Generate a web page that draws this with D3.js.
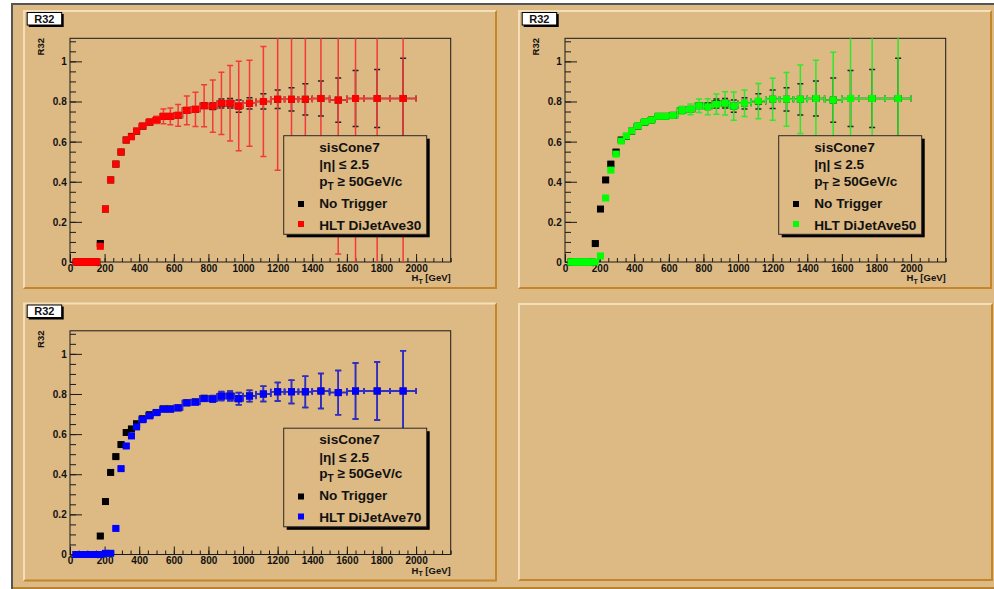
<!DOCTYPE html>
<html>
<head>
<meta charset="utf-8">
<script src="https://cdn.jsdelivr.net/npm/d3@7"></script>
<style>
  body { margin: 0; background: #ffffff; }
  svg { display: block; }
  text { font-family: "Liberation Sans", Arial, Helvetica, sans-serif; font-weight: bold; fill: #111; }
</style>
</head>
<body>
<svg id="canvas" width="994" height="589"></svg>
<script>
// H_T bin edges [GeV]
const binEdges = [30,40,50,60,70,80,90,100,110,120,130,140,150,160,190,220,250,280,310,340,370,400,
                  440,480,520,560,600,650,700,750,800,850,900,950,1000,1075,1160,1240,1320,1400,
                  1500,1600,1700,1850,2000];

// R32 per bin, no trigger requirement
const noTriggerR32 = [0,0,0,0,0,0,0,0,0,0,0,0,0,
  0.092,0.264,0.409,0.488,0.548,0.608,0.626,0.652,
  0.677,0.697,0.708,0.726,0.726,
  0.731,0.756,0.761,0.779,0.776,0.790,0.791,0.777,
  0.791,0.800,0.811,0.811,0.811,
  0.815,0.807,0.815,
  0.815,0.815];
const noTriggerErr = [0,0,0,0,0,0,0,0,0,0,0,0,0,
  0.004,0.006,0.006,0.006,0.006,0.006,0.006,0.006,
  0.006,0.006,0.006,0.007,0.008,
  0.008,0.009,0.010,0.012,0.016,0.022,0.024,0.030,
  0.028,0.038,0.046,0.058,0.078,
  0.087,0.110,0.140,
  0.145,0.200];

// R32 per bin, HLT DiJetAve30
const ave30R32 = [0,0,0,0,0,0,0,0,0,0,0,0,0,
  0.078,0.264,0.409,0.488,0.548,0.608,0.624,0.653,
  0.678,0.698,0.708,0.726,0.726,
  0.731,0.756,0.761,0.779,0.777,0.791,0.791,0.777,
  0.791,0.800,0.811,0.811,0.811,
  0.815,0.807,0.815,
  0.815,0.815];
const ave30Err = [0,0,0,0,0,0,0,0,0,0,0,0,0,
  0.005,0.007,0.007,0.007,0.007,0.007,0.007,0.008,
  0.008,0.012,0.018,0.037,0.042,
  0.054,0.072,0.085,0.105,0.130,0.155,0.188,0.223,
  0.214,0.274,0.354,0.450,0.500,
  0.550,0.767,0.850,
  0.880,0.950];

// R32 per bin, HLT DiJetAve50
const ave50R32 = [0,0,0,0,0,0,0,0,0,0,0,0,0,
  0,0.030,0.319,0.458,0.538,0.603,0.628,0.653,
  0.678,0.698,0.708,0.726,0.726,
  0.731,0.756,0.761,0.779,0.774,0.787,0.791,0.777,
  0.791,0.802,0.811,0.811,0.811,
  0.815,0.807,0.815,
  0.815,0.815];
const ave50Err = [0,0,0,0,0,0,0,0,0,0,0,0,0,
  0,0.004,0.006,0.006,0.006,0.006,0.006,0.006,
  0.006,0.006,0.007,0.008,0.010,
  0.012,0.020,0.027,0.034,0.040,0.050,0.058,0.070,
  0.066,0.088,0.105,0.134,0.171,
  0.190,0.238,0.420,
  0.450,0.500];

// R32 per bin, HLT DiJetAve70
const ave70R32 = [0,0,0,0,0,0,0,0,0,0,0,0,0,
  0,0.006,0.006,0.130,0.428,0.541,0.591,0.636,
  0.672,0.691,0.707,0.724,0.724,
  0.731,0.756,0.759,0.777,0.775,0.789,0.789,0.776,
  0.789,0.800,0.811,0.811,0.811,
  0.815,0.807,0.815,
  0.815,0.815];
const ave70Err = [0,0,0,0,0,0,0,0,0,0,0,0,0,
  0,0.002,0.002,0.006,0.008,0.008,0.008,0.008,
  0.008,0.008,0.008,0.008,0.008,
  0.008,0.009,0.010,0.012,0.016,0.022,0.024,0.030,
  0.028,0.038,0.046,0.058,0.078,
  0.087,0.110,0.140,
  0.145,0.200];

const xTickValues = [0,200,400,600,800,1000,1200,1400,1600,1800,2000];
const yTickValues = [0,0.2,0.4,0.6,0.8,1];
const legendHeader = ["sisCone7", "|η| ≤ 2.5"];
const triggerNames = ["HLT DiJetAve30", "HLT DiJetAve50", "HLT DiJetAve70"];

const BG = "#ddb983", LIGHT = "#f3dfb9", DARK = "#c4852c";
const svg = d3.select("#canvas");

// window frame and canvas background
svg.append("rect").attr("x", 13).attr("y", 5).attr("width", 981).attr("height", 584).attr("fill", BG);
svg.append("rect").attr("x", 11).attr("y", 3).attr("width", 2).attr("height", 586).attr("fill", "#555");
svg.append("rect").attr("x", 11).attr("y", 3).attr("width", 983).attr("height", 2).attr("fill", "#555");
svg.append("rect").attr("x", 13).attr("y", 587).attr("width", 981).attr("height", 2).attr("fill", "#b98331");

function padFrame(x0, y0, w, h) {
  svg.append("rect").attr("x", x0).attr("y", y0).attr("width", w).attr("height", h).attr("fill", BG);
  svg.append("path").attr("fill", LIGHT)
    .attr("d", `M${x0},${y0}H${x0 + w}L${x0 + w - 2},${y0 + 2}H${x0 + 2}V${y0 + h - 2}L${x0},${y0 + h}Z`);
  svg.append("path").attr("fill", DARK)
    .attr("d", `M${x0 + w},${y0}V${y0 + h}H${x0}L${x0 + 2},${y0 + h - 2}H${x0 + w - 2}V${y0 + 2}Z`);
}

const panels = [
  { x0: 23,  y0: 10,    h: 279, color: "#ff0000", errColor: "#f23a3a", vals: ave30R32, errs: ave30Err, name: triggerNames[0] },
  { x0: 518, y0: 10,    h: 279, color: "#00ff00", errColor: "#2ee82e", vals: ave50R32, errs: ave50Err, name: triggerNames[1] },
  { x0: 23,  y0: 302.5, h: 279, color: "#0000ff", errColor: "#2a2ae6", vals: ave70R32, errs: ave70Err, name: triggerNames[2] }
];

padFrame(518, 303, 475, 278);

panels.forEach((p, pi) => {
  padFrame(p.x0, p.y0, 474, p.h);
  const g = svg.append("g");
  const L = p.x0 + 47, R = p.x0 + 427.7, T = p.y0 + 28.3, B = p.y0 + 252;
  const x = d3.scaleLinear().domain([0, 2200]).range([L, R]);
  const y = d3.scaleLinear().domain([0, 1.115]).range([B, T]);

  // plot frame
  g.append("rect").attr("x", L).attr("y", T).attr("width", R - L).attr("height", B - T)
    .attr("fill", "none").attr("stroke", "#1a1a1a").attr("stroke-width", 1);

  // x axis: minor + major ticks pointing into the frame
  const xMinor = g.append("g").attr("transform", `translate(0,${B})`)
    .call(d3.axisBottom(x).tickValues(d3.range(0, 2201, 50)).tickSize(-4).tickFormat(""));
  const xMajor = g.append("g").attr("transform", `translate(0,${B})`)
    .call(d3.axisBottom(x).tickValues(xTickValues).tickSize(-8).tickPadding(2.5).tickFormat(d3.format("d")));
  // y axis
  const yMinor = g.append("g").attr("transform", `translate(${L},0)`)
    .call(d3.axisLeft(y).tickValues(d3.range(0, 1.1001, 0.05)).tickSize(-6).tickFormat(""));
  const yMajor = g.append("g").attr("transform", `translate(${L},0)`)
    .call(d3.axisLeft(y).tickValues(yTickValues).tickSize(-12).tickPadding(3.3).tickFormat(d3.format("~g")));
  [xMinor, xMajor, yMinor, yMajor].forEach(a => {
    a.select(".domain").remove();
    a.selectAll("line").attr("stroke", "#1a1a1a").attr("stroke-width", 1);
    a.selectAll("text").attr("font-size", 10).attr("fill", "#111")
      .attr("font-family", '"Liberation Sans", Arial, sans-serif').attr("font-weight", "bold");
  });
  yMajor.selectAll("text").attr("dy", "0.34em");

  // axis titles
  g.append("text").attr("transform", `translate(${p.x0 + 21},${T - 0.3}) rotate(-90)`)
    .attr("text-anchor", "end").attr("font-size", 9.5).text("R32");
  const xt = g.append("text").attr("x", R).attr("y", p.y0 + 271).attr("text-anchor", "end").attr("font-size", 9.5);
  xt.append("tspan").text("H");
  xt.append("tspan").attr("font-size", 7).attr("dy", 2.5).text("T");
  xt.append("tspan").attr("dy", -2.5).text(" [GeV]");

  // title box
  svg.append("rect").attr("x", p.x0 + 5.7).attr("y", p.y0 + 4).attr("width", 35).attr("height", 13).attr("fill", "#000");
  svg.append("rect").attr("x", p.x0 + 4.2).attr("y", p.y0 + 2.5).attr("width", 34.5).attr("height", 12.5)
    .attr("fill", "#fff").attr("stroke", "#000").attr("stroke-width", 1);
  svg.append("text").attr("x", p.x0 + 21.3).attr("y", p.y0 + 12.8).attr("text-anchor", "middle")
    .attr("font-size", 11).text("R32");

  // clip region for error bars
  const clipId = "clip" + pi;
  svg.append("clipPath").attr("id", clipId).append("rect")
    .attr("x", L).attr("y", T).attr("width", R - L).attr("height", B - T);

  function drawSeries(vals, errs, markColor, lineColor) {
    const bins = vals.map((v, i) => ({ lo: binEdges[i], hi: binEdges[i + 1], v, e: errs[i] }));
    const eg = g.append("g").attr("clip-path", `url(#${clipId})`)
      .attr("stroke", lineColor).attr("stroke-width", 1.5).attr("fill", "none");
    bins.forEach(b => {
      const cx = x((b.lo + b.hi) / 2), cy = y(b.v);
      eg.append("line").attr("x1", x(b.lo)).attr("x2", x(b.hi)).attr("y1", cy).attr("y2", cy);
      eg.append("line").attr("x1", x(b.lo)).attr("x2", x(b.lo)).attr("y1", cy - 3).attr("y2", cy + 3);
      eg.append("line").attr("x1", x(b.hi)).attr("x2", x(b.hi)).attr("y1", cy - 3).attr("y2", cy + 3);
      if (b.e > 0) {
        const y1 = y(b.v + b.e), y2 = y(b.v - b.e);
        eg.append("line").attr("x1", cx).attr("x2", cx).attr("y1", y1).attr("y2", y2);
        eg.append("line").attr("x1", cx - 3).attr("x2", cx + 3).attr("y1", y1).attr("y2", y1);
        eg.append("line").attr("x1", cx - 3).attr("x2", cx + 3).attr("y1", y2).attr("y2", y2);
      }
    });
    g.append("g").selectAll("rect").data(bins).join("rect")
      .attr("x", d => x((d.lo + d.hi) / 2) - 3.5).attr("y", d => y(d.v) - 3.5)
      .attr("width", 7).attr("height", 7).attr("fill", markColor);
  }
  drawSeries(noTriggerR32, noTriggerErr, "#000", "#222");
  drawSeries(p.vals, p.errs, p.color, p.errColor);

  // legend
  const lx = p.x0 + 260.7, ly = p.y0 + 125.7, lw = 143, lh = 98.6;
  svg.append("rect").attr("x", lx + 3).attr("y", ly + 3).attr("width", lw).attr("height", lh).attr("fill", "#000");
  svg.append("rect").attr("x", lx).attr("y", ly).attr("width", lw).attr("height", lh)
    .attr("fill", BG).attr("stroke", "#2a2a2a").attr("stroke-width", 1);
  const tx = p.x0 + 296.3, fs = 13.6;
  svg.append("text").attr("x", tx).attr("y", p.y0 + 141.5).attr("font-size", fs).text(legendHeader[0]);
  svg.append("text").attr("x", tx).attr("y", p.y0 + 159).attr("font-size", fs).text(legendHeader[1]);
  const pt = svg.append("text").attr("x", tx).attr("y", p.y0 + 175.7).attr("font-size", fs);
  pt.append("tspan").text("p");
  pt.append("tspan").attr("font-size", 10).attr("dy", 4).text("T");
  pt.append("tspan").attr("dy", -4).text(" ≥ 50GeV/c");
  svg.append("rect").attr("x", p.x0 + 275).attr("y", p.y0 + 191).attr("width", 6).attr("height", 6).attr("fill", "#000");
  svg.append("text").attr("x", tx).attr("y", p.y0 + 197.7).attr("font-size", fs).text("No Trigger");
  svg.append("rect").attr("x", p.x0 + 275).attr("y", p.y0 + 211).attr("width", 6).attr("height", 6).attr("fill", p.color);
  svg.append("text").attr("x", tx).attr("y", p.y0 + 219.5).attr("font-size", fs).text(p.name);
});
</script>
</body>
</html>
